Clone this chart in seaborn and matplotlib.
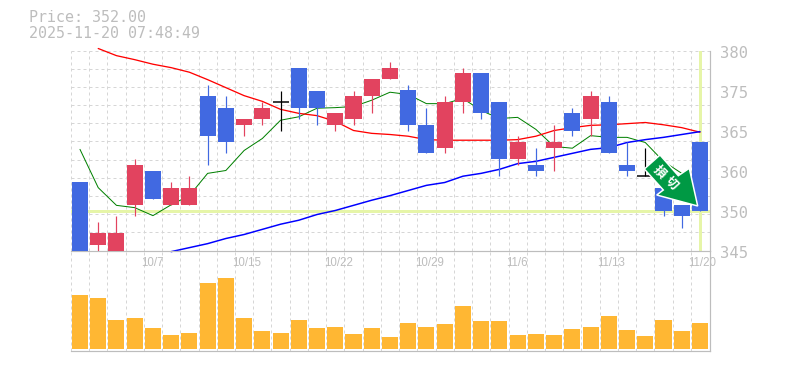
#!/usr/bin/env python3
"""Daily candles with moving averages and a volume panel."""

import matplotlib
matplotlib.use("Agg")
import matplotlib.pyplot as plt
from matplotlib.patches import Polygon
import numpy as np
import pandas as pd
import seaborn as sns

sns.set_style("white")
plt.rcParams['font.family'] = ['DejaVu Sans Mono', 'Noto Sans CJK JP']

W, H = 785, 370
PX = 72 / 100  # one pixel in points at dpi 100

# Values
opens = [357, 346, 345, 353, 359, 353, 353, 372, 370, 367, 368, 371, 377, 373, 367, 368, 372, 375,
         373, 367, 363, 371, 376, 371, 361, 360, 363, 369, 368, 371, 360, 358, 356, 353, 364]
closes = [344, 348, 348, 360, 354, 356, 356, 365, 364, 368, 370, 371, 370, 370, 369, 372, 375, 377,
          367, 362, 371, 376, 369, 361, 364, 359, 364, 366, 372, 362, 359, 358, 352, 351, 352]
highs = [357, 350, 351, 361, 359, 357, 358, 374, 372, 368, 371, 373, 377, 373, 369, 373, 375, 378,
         374, 370, 372, 377, 376, 371, 365, 363, 367, 370, 373, 372, 364, 363, 356, 353, 364]
lows = [344, 345, 345, 351, 354, 353, 353, 360, 362, 365, 367, 366, 368, 367, 366, 367, 369, 375,
        366, 362, 362, 369, 368, 358, 360, 358, 359, 365, 365, 362, 358, 358, 351, 349, 352]
ma_green = [362.7, 356.0, 352.9, 352.5, 351.1, 353.0, 354.6, 358.5, 359.0, 362.5, 364.6, 367.8,
            368.4, 369.9, 370.0, 370.2, 371.3, 372.7, 372.3, 370.7, 370.7, 371.6, 369.5, 368.1,
            368.3, 366.2, 363.2, 362.9, 365.1, 364.8, 364.8, 363.9, 360.6, 358.5, 354.4]
ma_red = [np.nan, 380.35, 379.1, 378.4, 377.6, 377.0, 376.2, 374.9, 373.5, 372.1, 371.1, 369.7,
          369.0, 368.6, 367.6, 366.0, 365.5, 365.3, 365.0, 364.4, 364.3, 364.3, 364.3, 364.3,
          364.4, 365.0, 366.0, 366.5, 366.9, 367.0, 367.2, 367.4, 367.0, 366.5, 365.7]
ma_blue = [np.nan] * 5 + [344.8, 345.5, 346.2, 347.1, 347.8, 348.7, 349.6, 350.3, 351.3, 352.0,
                          352.9, 353.8, 354.6, 355.5, 356.4, 356.9, 358.0, 358.5, 359.2, 360.2,
                          360.6, 361.3, 362.0, 362.7, 363.0, 363.9, 364.4, 364.8, 365.3, 365.8]
volumes = [54, 51, 29, 31, 21, 14, 16, 66, 71, 31, 18, 16, 29, 21, 22, 15, 21, 12,
           26, 22, 25, 43, 28, 28, 14, 15, 14, 20, 22, 33, 19, 13, 29, 18, 26]
date_pos = [4, 9, 14, 19, 24, 29, 34]
date_labels = ['10/7', '10/15', '10/22', '10/29', '11/6', '11/13', '11/20']
price_ticks = [345, 352, 359, 366, 373, 380]
price_labels = ['345', '350', '360', '365', '375', '380']
last_price = 352.0

BLUE = '#4169e1'
RED = '#e2435f'
AMBER = '#ffb733'
GREY = '#bdbdbd'
GRID = '#d6d6d6'
PALE = '#e6f5a8'

df = pd.DataFrame({'day': range(35), 'open': opens, 'close': closes, 'high': highs, 'low': lows,
                   'ma_green': ma_green, 'ma_red': ma_red, 'ma_blue': ma_blue, 'volume': volumes})


def fig_xy(px, py):
    return px / W, 1 - py / H


fig = plt.figure(figsize=(W / 100, H / 100), dpi=100, facecolor='white')
ax = fig.add_axes([70.5 / W, 1 - 250.5 / H, 639.5 / W, 200 / H])
ax_vol = fig.add_axes([70.5 / W, 1 - 350.5 / H, 639.5 / W, 100 / H])
# price panel goes on top so the date labels are not covered by the volume panel
ax.set_zorder(2)
ax_vol.set_zorder(1)

# Moving averages sit under the candles
for col, color, lw in [('ma_green', '#008000', 1.0), ('ma_red', '#ff0000', 1.3), ('ma_blue', '#0000ff', 1.5)]:
    sns.lineplot(data=df, x='day', y=col, color=color, linewidth=lw * PX, ax=ax, zorder=2, clip_on=False)

# Candles
for row in df.itertuples():
    if row.open == row.close:
        ax.vlines(row.day, row.low, row.high, color='black', linewidth=1.2 * PX, zorder=3)
        ax.hlines(row.close, row.day - 0.44, row.day + 0.44, color='black', linewidth=1.5 * PX, zorder=3)
        continue
    color = RED if row.close > row.open else BLUE
    ax.vlines(row.day, row.low, row.high, color=color, linewidth=1.2 * PX, zorder=3)
    ax.bar(row.day, abs(row.close - row.open), bottom=min(row.open, row.close), width=0.88,
           color=color, linewidth=0, zorder=4)

# Current price cross
ax.axhline(last_price, color=PALE, linewidth=3 * PX, zorder=1)
ax.axvline(34, color=PALE, linewidth=3 * PX, zorder=1)

sns.barplot(data=df, x='day', y='volume', native_scale=True, color=AMBER, saturation=1,
            width=0.88, linewidth=0, ax=ax_vol, zorder=3)

ax.set_ylim(345, 380)
ax_vol.set_ylim(-2, 98)
for a in (ax, ax_vol):
    a.set_xlim(-0.52, 34.55)
    a.set_xlabel('')
    a.set_ylabel('')
    a.set_xticks([])
    a.set_yticks([])
    a.set_xticks(df['day'] - 0.5, minor=True)
    a.grid(True, which='minor', axis='x', color=GRID, linewidth=PX, linestyle=(0, (3, 3)), zorder=0)
    a.tick_params(which='both', length=0)
    a.set_axisbelow(True)
    for side in ('left', 'top'):
        a.spines[side].set_visible(False)
    for side in ('right', 'bottom'):
        a.spines[side].set_color(GREY)
        a.spines[side].set_linewidth(1.2 * PX)

ax.set_yticks(np.linspace(345, 380, 12), minor=True)
ax.grid(True, which='minor', axis='y', color=GRID, linewidth=PX, linestyle=(0, (3, 3)), zorder=0)

# Price labels on the right, date labels under the candles
for tick, label in zip(price_ticks, price_labels):
    ax.annotate(label, xy=(1, tick), xycoords=ax.get_yaxis_transform(), xytext=(10, -3),
                textcoords='offset pixels', ha='left', va='center', fontsize=11.2, color=GREY,
                annotation_clip=False)
for pos, label in zip(date_pos, date_labels):
    ax.annotate(label, xy=(pos, 345), xytext=(-11.5, -12), textcoords='offset pixels',
                ha='left', va='center', fontsize=8.3, color=GREY, family='Liberation Sans',
                annotation_clip=False)

fig.text(*fig_xy(29, 18), 'Price: 352.00', ha='left', va='center', fontsize=10.8, color=GREY)
fig.text(*fig_xy(29, 33), '2025-11-20 07:48:49', ha='left', va='center', fontsize=10.8, color=GREY)

# Stop-loss arrow, drawn over both panels
arrow_px = [(660, 155), (644.3, 169), (663.3, 190), (656.7, 195), (697.7, 206), (689.3, 168.3), (678.3, 175.7)]
fig.add_artist(Polygon([fig_xy(*p) for p in arrow_px], closed=True, transform=fig.transFigure,
                       facecolor='#009944', edgecolor='white', linewidth=1.5 * PX, zorder=10))
for (px, py), ch in zip([(659, 172), (671.5, 183)], ['損', '切']):
    fig.text(*fig_xy(px, py), ch, rotation=-45, rotation_mode='anchor', ha='center', va='center',
             fontsize=9, color='white', fontweight='bold', family=['Noto Sans CJK JP'], zorder=11)

plt.savefig('out.png', dpi=100)
plt.close()
